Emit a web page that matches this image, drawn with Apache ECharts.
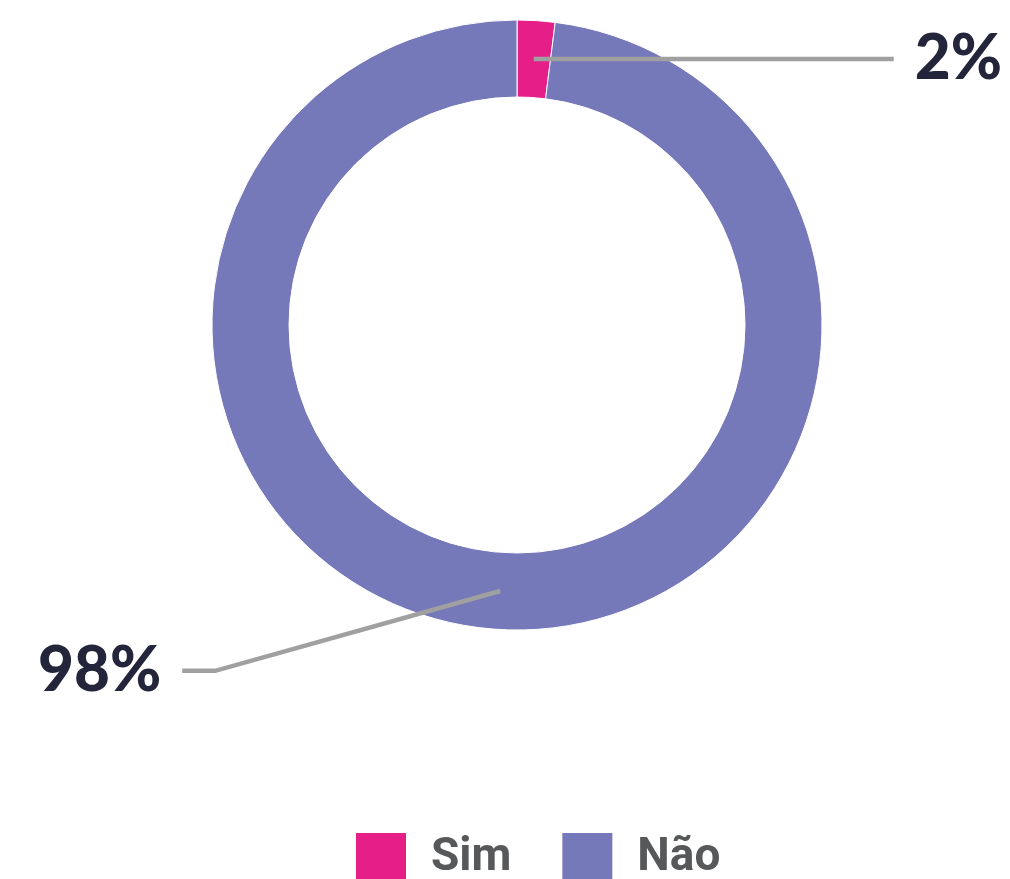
<!DOCTYPE html>
<html>
<head>
<meta charset="utf-8">
<style>
  html, body { margin: 0; padding: 0; background: #ffffff; }
  #chart { width: 1010px; height: 879px; }
</style>
<script src="https://cdn.jsdelivr.net/npm/echarts@6/dist/echarts.min.js"></script>
</head>
<body>
<div id="chart"></div>
<script>
// Answer categories and their shares (%)
const categories = ['Sim', 'Não'];
const values = [2, 98];
const sliceColors = ['#E61F88', '#7578B9'];

// Leader-line lengths per category (radial segment, horizontal segment)
const leaderLines = {
  'Sim': { length: 0, length2: 360 },
  'Não': { length: 80, length2: 313 }
};

const center = [517, 325];
const innerR = 228;
const outerR = 305;
const midR = (innerR + outerR) / 2;
const elbow = 33;

const chart = echarts.init(document.getElementById('chart'), null, { renderer: 'canvas' });

const ringData = categories.map((name, i) => ({
  name: name,
  value: values[i],
  itemStyle: { color: sliceColors[i] }
}));

// Same values on a transparent pie reaching to the middle of the ring,
// so the leader lines start inside the coloured band.
const labelData = categories.map((name, i) => ({
  name: name,
  value: values[i],
  labelLine: {
    length: leaderLines[name].length,
    length2: leaderLines[name].length2
  }
}));

chart.setOption({
  animation: false,
  backgroundColor: '#ffffff',
  legend: {
    data: categories,
    top: 831,
    left: 354,
    padding: 0,
    icon: 'rect',
    itemWidth: 52,
    itemHeight: 52,
    itemGap: 49,
    selectedMode: false,
    textStyle: {
      fontFamily: 'Roboto',
      fontWeight: 'bold',
      fontSize: 46,
      color: '#56585A',
      padding: [0, 0, 0, 19]
    }
  },
  series: [
    {
      name: 'ring',
      type: 'pie',
      z: 2,
      center: center,
      radius: [innerR, outerR],
      startAngle: 90,
      clockwise: true,
      silent: true,
      label: { show: false },
      labelLine: { show: false },
      itemStyle: { borderColor: '#ffffff', borderWidth: 1 },
      emphasis: { disabled: true },
      data: ringData
    },
    {
      name: 'labels',
      type: 'pie',
      z: 5,
      center: center,
      radius: [0, midR],
      startAngle: 90,
      clockwise: true,
      silent: true,
      avoidLabelOverlap: false,
      itemStyle: { color: 'rgba(0,0,0,0)' },
      emphasis: { disabled: true },
      label: {
        show: true,
        position: 'outside',
        formatter: '{c}%',
        fontFamily: 'Lato',
        fontWeight: 900,
        fontSize: 62,
        color: '#23263A',
        distanceToLabelLine: 21,
        bleedMargin: 0
      },
      labelLine: {
        show: true,
        minTurnAngle: 0,
        maxSurfaceAngle: 180,
        lineStyle: { color: '#A0A0A0', width: 4.5 }
      },
      labelLayout: function (params) {
        const pts = params.labelLinePoints;
        if (!pts) return {};
        const start = pts[0];
        const end = pts[2];
        const dir = end[0] < start[0] ? 1 : -1;
        return {
          labelLinePoints: [start, [end[0] + dir * elbow, end[1]], end]
        };
      },
      data: labelData
    }
  ]
});
</script>
</body>
</html>
